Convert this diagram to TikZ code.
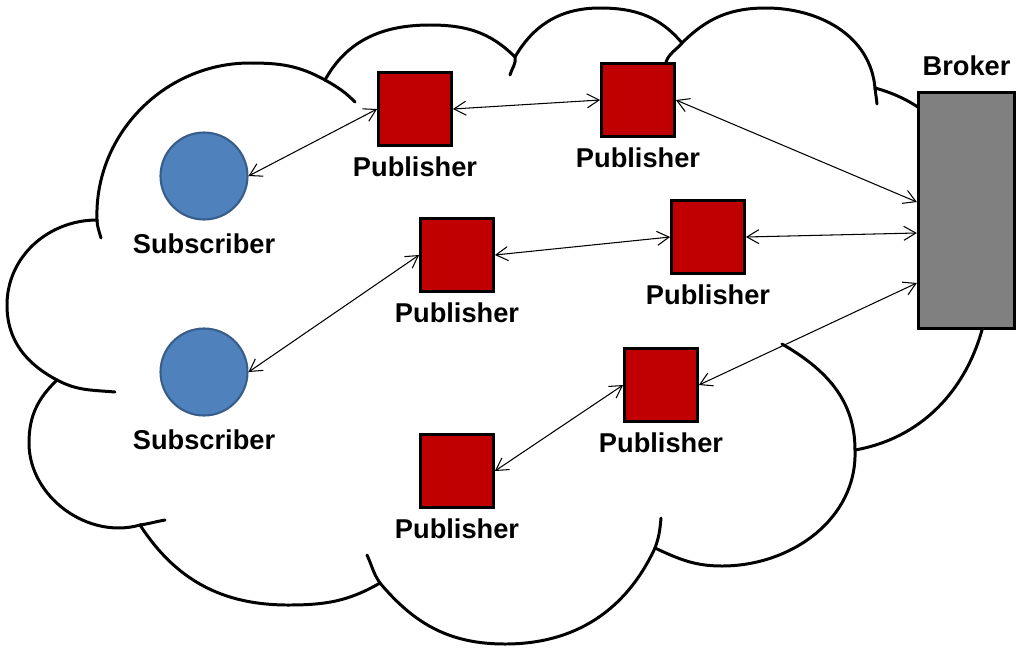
\documentclass[tikz,border=0pt]{standalone}
\usepackage{fontspec}
\setmainfont{Liberation Sans}
\usetikzlibrary{positioning}
\usetikzlibrary{arrows.meta}

\definecolor{pubred}{HTML}{C00000}
\definecolor{subblue}{HTML}{4F81BD}
\definecolor{subedge}{HTML}{385D8A}
\definecolor{brokergray}{HTML}{808080}

\begin{document}
\begin{tikzpicture} [
    x=0.02cm, y=-0.02cm,   % one unit is one pixel of the layout, y runs downwards
    node distance=2pt,     % labels sit just under their shapes
    ]
% -------------------------------------------------
\tikzset{
  cloud/.style={draw, line width=1.7pt, line cap=round},
  sub/.style={circle, draw=subedge, fill=subblue, line width=1.2pt, minimum size=1.74cm, inner sep=0pt},
  pub/.style={rectangle, draw, fill=pubred, line width=1.9pt, minimum size=1.45cm, inner sep=0pt},
  brk/.style={rectangle, draw, fill=brokergray, line width=1.9pt, minimum width=1.92cm, minimum height=4.72cm},
  lbl/.style={font=\bfseries\fontsize{15.5}{18}\selectfont},
  line/.style={draw, line width=0.6pt, <->, >={Straight Barb[length=2.4mm,width=2.8mm]}}
}
    \useasboundingbox (0,0) rectangle (1024,653);

    % cloud outline, lobe by lobe
    \draw[cloud] (57,380) to[out=152,in=-90] (7,305) to[out=90,in=180] (97,220)   % left lobe
      to[out=92,in=180] (250,63) to[out=0,in=151] (325,80)                          % upper left lobe
      to[out=61,in=180] (430,25) to[out=0,in=135] (515,57)                          % top lobes
      to[out=60,in=180] (600,8) to[out=0,in=130] (682,43)
      to[out=45,in=180] (766,8) to[out=0,in=95] (875,88)
      to[out=-15,in=90] (990,270) to[out=-90,in=10] (855,450)                       % behind the broker
      to[out=-88,in=0] (722,566) to[out=180,in=-25] (655,548)                       % bottom lobes
      to[out=-115,in=0] (505,644) to[out=180,in=-50] (380,583)
      to[out=-150,in=0] (288,605) to[out=180,in=-57] (140,525)
      to[out=-164,in=-90] (29,443) to[out=90,in=-136] (57,380);                     % lower left lobe

    % short inner strokes at the joints
    \draw[cloud] (97,220) to[out=-88,in=105] (101,238);
    \draw[cloud] (325,80) to[out=-29,in=135] (355,102);
    \draw[cloud] (515,57) to[out=-80,in=75] (510,75);
    \draw[cloud] (682,43) to[out=230,in=70] (666,62);
    \draw[cloud] (875,88) to[out=-85,in=95] (877,104);
    \draw[cloud] (855,450) to[out=90,in=-30] (782,344);
    \draw[cloud] (655,548) to[out=70,in=-95] (661,518);
    \draw[cloud] (380,583) to[out=125,in=-65] (367,555);
    \draw[cloud] (140,525) to[out=8,in=190] (165,520);
    \draw[cloud] (57,380) to[out=-28,in=175] (115,392);

    \node [sub] (sub1) at (204,176) {};
    \node [sub] (sub2) at (204,372) {};
    \node [pub] (p1) at (415,109) {};
    \node [pub] (p2) at (638,100) {};
    \node [pub] (p3) at (457,255) {};
    \node [pub] (p4) at (708,237) {};
    \node [pub] (p5) at (661,385) {};
    \node [pub] (p6) at (457,471) {};
    \node [brk] (broker) at (966.5,210.5) {};

    \node [lbl, below=4pt of sub1] (sub1l) {Subscriber};
    \node [lbl, below=4pt of sub2] (sub2l) {Subscriber};
    \node [lbl, below=of p1] (p1l) {Publisher};
    \node [lbl, below=of p2] (p2l) {Publisher};
    \node [lbl, below=of p3] (p3l) {Publisher};
    \node [lbl, below=of p4] (p4l) {Publisher};
    \node [lbl, below=of p5] (p5l) {Publisher};
    \node [lbl, below=of p6] (p6l) {Publisher};
    \node [lbl, above=5pt of broker] (brokerl) {Broker};

    \path [line] (sub1.east) -- (p1.west);
    \path [line] (p1.east) -- (p2.west);
    \path [line] (p2.east) -- ([yshift=0.17cm]broker.west);
    \path [line] (sub2.east) -- (p3.west);
    \path [line] (p3.east) -- (p4.west);
    \path [line] (p4.east) -- ([yshift=-0.45cm]broker.west);
    \path [line] (p6.east) -- (p5.west);
    \path [line] (p5.east) -- ([yshift=-1.45cm]broker.west);

\end{tikzpicture}
\end{document}
